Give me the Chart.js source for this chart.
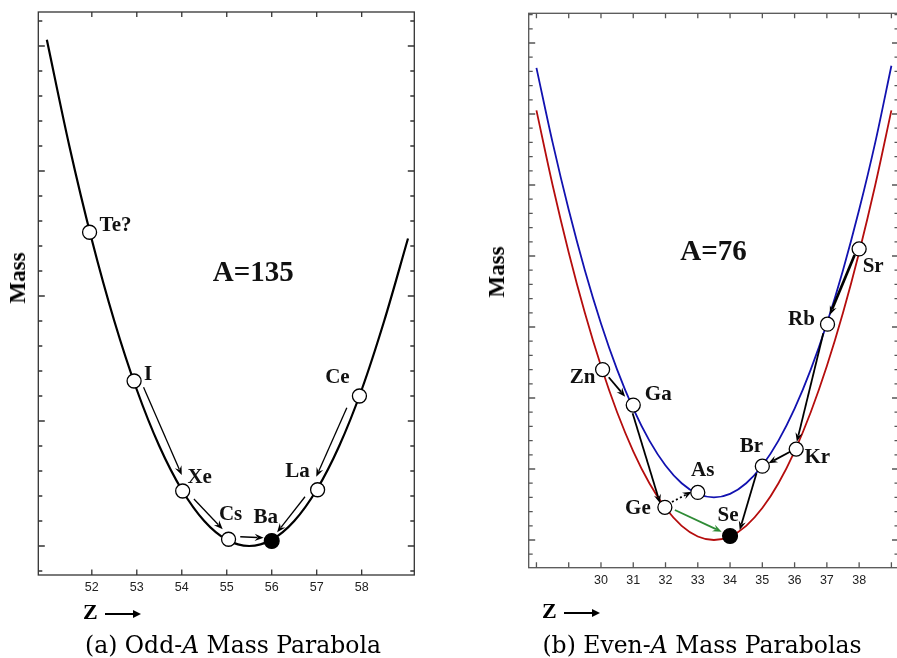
<!DOCTYPE html>
<html lang="en">
  <head>
    <meta charset="UTF-8" />
    <title>Mass parabolas</title>
    <script src="https://cdn.jsdelivr.net/npm/chart.js"></script>
    <style>
      body {
        margin: 0;
        width: 897px;
        height: 658px;
        overflow: hidden;
        background: #fff;
        position: relative;
      }
      canvas {
        position: absolute;
        top: 0;
      }
      #leftChart { left: 0; }
      #rightChart { left: 448px; }
      .mass {
        position: absolute;
        font-family: "Liberation Serif";
        font-weight: bold;
        font-size: 23px;
        transform: translate(-50%, -50%) rotate(-90deg);
        white-space: nowrap;
      }
      .zlabel {
        position: absolute;
        font-family: "Liberation Serif";
        font-weight: bold;
        font-size: 22px;
        line-height: 22px;
        white-space: nowrap;
      }
      .zlabel .arr {
        display: inline-block;
        position: relative;
        width: 30px;
        height: 1.6px;
        background: #000;
        vertical-align: middle;
        margin-left: 7px;
      }
      .zlabel .arr::after {
        content: "";
        position: absolute;
        right: -6px;
        top: -3.2px;
        border-left: 8px solid #000;
        border-top: 4px solid transparent;
        border-bottom: 4px solid transparent;
      }
      .caption {
        position: absolute;
        font-family: "DejaVu Serif";
        font-size: 23.5px;
        line-height: 1;
        transform: translateX(-50%);
        white-space: nowrap;
      }
    </style>
  </head>
  <body>
    <canvas id="leftChart" width="448" height="600"></canvas>
    <canvas id="rightChart" width="460" height="600"></canvas>

    <div class="mass" style="left: 18px; top: 278px">Mass</div>
    <div class="mass" style="left: 497px; top: 272px">Mass</div>

    <div class="zlabel" style="left: 83px; top: 601px">Z<span class="arr"></span></div>
    <div class="zlabel" style="left: 542px; top: 600px">Z<span class="arr"></span></div>

    <div class="caption" style="left: 233px; top: 634px">(a) Odd-<i>A</i> Mass Parabola</div>
    <div class="caption" style="left: 702px; top: 634px">(b) Even-<i>A</i> Mass Parabolas</div>

    <script>
      // ---- (a) odd-A, A = 135 ----
      const oddCurveZ = [51.0, 51.5, 52.0, 52.5, 53.0, 53.5, 54.0, 54.5, 55.0, 55.5, 56.0, 56.5, 57.0, 57.5, 58.0, 58.5, 59.03];
      const oddCurveMass = [20.25, 16.0, 12.25, 9.0, 6.25, 4.0, 2.25, 1.0, 0.25, 0.0, 0.25, 1.0, 2.25, 4.0, 6.25, 9.0, 12.3];

      const oddNames = ["Te?", "I", "Xe", "Cs", "Ba", "La", "Ce"];
      const oddZ = [51.95, 52.94, 54.02, 55.04, 56.0, 57.02, 57.95];
      const oddMass = [12.55, 6.6, 2.2, 0.27, 0.2, 2.25, 6.0];
      const oddStable = ["Ba"];

      // decay arrows: [fromZ, fromMass, toZ, toMass]
      const oddDecays = [
        [53.15, 6.35, 54.0, 2.84],
        [54.27, 1.88, 54.91, 0.67],
        [55.3, 0.37, 55.82, 0.33],
        [57.67, 5.53, 56.99, 2.77],
        [56.74, 1.97, 56.12, 0.55],
      ];
      const oddTickLabels = [52, 53, 54, 55, 56, 57, 58];

      // ---- (b) even-A, A = 76 ----
      const evenCurveZ = [28.0, 28.5, 29.0, 29.5, 30.0, 30.5, 31.0, 31.5, 32.0, 32.5, 33.0, 33.5, 34.0, 34.5, 35.0, 35.5, 36.0, 36.5, 37.0, 37.5, 38.0, 38.5, 39.0];
      const evenEvenMass = [30.25, 25.0, 20.25, 16.0, 12.25, 9.0, 6.25, 4.0, 2.25, 1.0, 0.25, 0.0, 0.25, 1.0, 2.25, 4.0, 6.25, 9.0, 12.25, 16.0, 20.25, 25.0, 30.25];
      const oddOddMass = [33.25, 28.0, 23.25, 19.0, 15.25, 12.0, 9.25, 7.0, 5.25, 4.0, 3.25, 3.0, 3.25, 4.0, 5.25, 7.0, 9.25, 12.0, 15.25, 19.0, 23.25, 28.0, 33.4];

      const evenNames = ["Zn", "Ga", "Ge", "As", "Se", "Br", "Kr", "Rb", "Sr"];
      const evenZ = [30.05, 31.0, 31.98, 33.0, 34.0, 35.0, 36.05, 37.02, 38.0];
      const evenMass = [12.0, 9.5, 2.3, 3.35, 0.28, 5.2, 6.4, 15.2, 20.5];
      const evenStable = ["Se"];

      // [fromZ, fromMass, toZ, toMass, kind]
      const evenDecays = [
        [37.86, 20.07, 37.09, 15.85, "heavy"],
        [36.89, 14.56, 36.07, 6.92, "beta"],
        [35.86, 6.22, 35.19, 5.4, "beta"],
        [34.82, 4.7, 34.3, 0.7, "beta"],
        [30.24, 11.46, 30.75, 10.09, "beta"],
        [30.98, 8.92, 31.83, 2.58, "beta"],
        [32.2, 2.68, 32.81, 3.4, "forbidden"],
        [32.29, 2.11, 33.74, 0.58, "double"],
      ];
      const evenTickLabels = [30, 31, 32, 33, 34, 35, 36, 37, 38];

      function range(a, b) {
        const out = [];
        for (let v = a; v <= b; v++) out.push(v);
        return out;
      }

      // label offsets in px from each point centre
      const decor = {
        leftChart: {
          frameColor: "#333",
          xMarks: range(52, 58),
          yMarks: range(-1, 21),
          arrows: oddDecays,
          arrowWidth: 1.3,
          names: oddNames,
          offsets: [[26, -7], [14, -6], [17, -13], [2, -25], [-6, -23], [-20, -18], [-22, -18]],
          title: { text: "A=135", z: 55.59, m: 10.88 },
        },
        rightChart: {
          frameColor: "#555",
          xMarks: range(28, 39),
          yMarks: range(-1, 37),
          arrows: evenDecays,
          arrowWidth: 1.8,
          names: evenNames,
          offsets: [[-20, 8], [25, -11], [-27, 1], [5, -22], [-2, -20], [-11, -20], [21, 8], [-26, -5], [14, 18]],
          title: { text: "A=76", z: 33.49, m: 20.25 },
        },
      };

      function drawArrow(ctx, x1, y1, x2, y2, color, width, dotted) {
        const ang = Math.atan2(y2 - y1, x2 - x1);
        const c = Math.cos(ang), s = Math.sin(ang);
        const head = 9, hw = 3.6;
        ctx.save();
        ctx.strokeStyle = color;
        ctx.fillStyle = color;
        ctx.lineWidth = width;
        if (dotted) ctx.setLineDash([2, 2.5]);
        ctx.beginPath();
        ctx.moveTo(x1, y1);
        ctx.lineTo(x2 - head * 0.7 * c, y2 - head * 0.7 * s);
        ctx.stroke();
        ctx.setLineDash([]);
        ctx.beginPath();
        ctx.moveTo(x2, y2);
        ctx.lineTo(x2 - head * c + hw * s, y2 - head * s - hw * c);
        ctx.lineTo(x2 - head * 0.65 * c, y2 - head * 0.65 * s);
        ctx.lineTo(x2 - head * c - hw * s, y2 - head * s + hw * c);
        ctx.closePath();
        ctx.fill();
        ctx.restore();
      }

      const decorPlugin = {
        id: "decor",
        beforeDatasetDraw(chart, args) {
          if (args.index !== 0) return; // points dataset, drawn last
          const cfg = decor[chart.canvas.id];
          const xs = chart.scales.x, ys = chart.scales.y;
          cfg.arrows.forEach((a) => {
            const kind = a[4] || "beta";
            const color = kind === "double" ? "#2e8b35" : "#000";
            let w = cfg.arrowWidth;
            if (kind === "heavy") w = 2.7;
            if (kind === "double" || kind === "forbidden") w = 1.8;
            drawArrow(
              chart.ctx,
              xs.getPixelForValue(a[0]), ys.getPixelForValue(a[1]),
              xs.getPixelForValue(a[2]), ys.getPixelForValue(a[3]),
              color, w, kind === "forbidden"
            );
          });
        },
        afterDraw(chart) {
          const cfg = decor[chart.canvas.id];
          const ctx = chart.ctx;
          const area = chart.chartArea;
          const xs = chart.scales.x, ys = chart.scales.y;
          ctx.save();
          // frame
          ctx.strokeStyle = cfg.frameColor;
          ctx.lineWidth = 1.3;
          ctx.strokeRect(area.left, area.top, area.right - area.left, area.bottom - area.top);
          // inward tick marks
          ctx.beginPath();
          cfg.xMarks.forEach((v) => {
            const x = xs.getPixelForValue(v);
            ctx.moveTo(x, area.bottom); ctx.lineTo(x, area.bottom - 5.5);
            ctx.moveTo(x, area.top); ctx.lineTo(x, area.top + 5);
          });
          cfg.yMarks.forEach((v) => {
            const y = ys.getPixelForValue(v);
            const len = v % 5 === 0 ? 6.5 : 4;
            ctx.moveTo(area.left, y); ctx.lineTo(area.left + len, y);
            ctx.moveTo(area.right, y); ctx.lineTo(area.right - len, y);
          });
          ctx.stroke();
          // nuclide labels
          ctx.fillStyle = "#111";
          ctx.font = 'bold 21px "Liberation Serif"';
          ctx.textAlign = "center";
          ctx.textBaseline = "middle";
          const meta = chart.getDatasetMeta(0);
          cfg.names.forEach((n, i) => {
            const p = meta.data[i];
            ctx.fillText(n, p.x + cfg.offsets[i][0], p.y + cfg.offsets[i][1]);
          });
          ctx.font = 'bold 29px "Liberation Serif"';
          ctx.fillText(cfg.title.text, xs.getPixelForValue(cfg.title.z), ys.getPixelForValue(cfg.title.m));
          ctx.restore();
        },
      };

      function pointsDataset(zs, ms, names, stable) {
        return {
          label: "nuclides",
          order: 0,
          data: zs.map((z, i) => ({ x: z, y: ms[i] })),
          pointRadius: names.map((n) => (stable.includes(n) ? 7.4 : 7)),
          pointBackgroundColor: names.map((n) => (stable.includes(n) ? "#000" : "#fff")),
          pointBorderColor: "#000",
          pointBorderWidth: 1.3,
          showLine: false,
        };
      }

      function curveDataset(zs, ms, color, width) {
        return {
          label: "curve",
          order: 1,
          data: zs.map((z, i) => ({ x: z, y: ms[i] })),
          showLine: true,
          borderColor: color,
          borderWidth: width,
          pointRadius: 0,
          cubicInterpolationMode: "monotone",
        };
      }

      function xScale(min, max, labels) {
        return {
          type: "linear",
          min,
          max,
          grid: { display: false, drawTicks: false },
          border: { display: false },
          ticks: {
            padding: 5,
            color: "#222",
            font: { family: "Liberation Sans", size: 12.5 },
          },
          afterBuildTicks: (s) => {
            s.ticks = labels.map((v) => ({ value: v }));
          },
          afterFit: (s) => {
            s.height = 20;
          },
        };
      }

      const common = {
        responsive: false,
        animation: false,
        events: [],
        plugins: { legend: { display: false }, tooltip: { enabled: false } },
      };

      new Chart(document.getElementById("leftChart"), {
        type: "scatter",
        data: {
          datasets: [
            pointsDataset(oddZ, oddMass, oddNames, oddStable),
            curveDataset(oddCurveZ, oddCurveMass, "#000", 2.2),
          ],
        },
        options: {
          ...common,
          layout: { padding: { left: 38.3, right: 33.7, top: 12, bottom: 5 } },
          scales: {
            x: xScale(50.81, 59.17, oddTickLabels),
            y: { type: "linear", min: -1.16, max: 21.36, display: false },
          },
        },
        plugins: [decorPlugin],
      });

      new Chart(document.getElementById("rightChart"), {
        type: "scatter",
        data: {
          datasets: [
            pointsDataset(evenZ, evenMass, evenNames, evenStable),
            curveDataset(evenCurveZ, oddOddMass, "#1212b0", 1.8),
            curveDataset(evenCurveZ, evenEvenMass, "#b50d0d", 1.8),
          ],
        },
        options: {
          ...common,
          layout: { padding: { left: 80.7, right: 9.5, top: 13.3, bottom: 12.3 } },
          scales: {
            x: xScale(27.76, 39.22, evenTickLabels),
            y: { type: "linear", min: -1.95, max: 37.09, display: false },
          },
        },
        plugins: [decorPlugin],
      });
    </script>
  </body>
</html>
